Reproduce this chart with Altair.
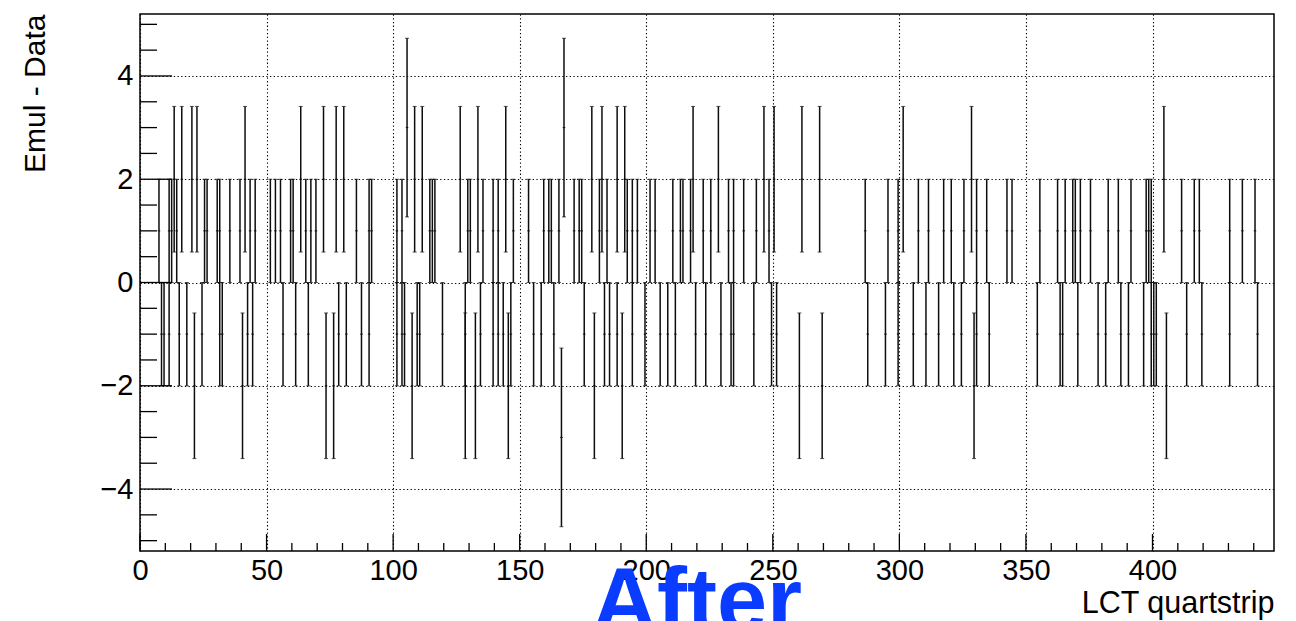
import altair as alt
import pandas as pd

# Bin lower edges (1 quartstrip wide) grouped by the profile mean in that bin
bins_p1 = [7, 11, 12, 14, 25, 26, 30, 31, 35, 39, 43, 45,
           51, 53, 55, 59, 60, 65, 67, 69, 85, 90, 91,
           101, 103, 114, 115, 116, 129, 130, 135, 139, 141, 147,
           153, 159, 161, 162, 165, 171, 173, 174, 181, 184,
           192, 194, 196, 201, 203, 210, 213, 214, 217, 222, 225, 232, 234, 238, 243, 248,
           286, 295, 299, 307, 311,
           317, 320, 325, 330, 334, 342, 344, 355, 362, 365, 368, 369, 371, 375,
           382, 386, 391, 397, 398, 399, 411, 416, 418, 430, 435, 440]
bins_m1 = [8, 9, 11, 15, 18, 24, 31, 32, 42, 44,
           56, 61, 66, 78, 81, 87, 90,
           101, 103, 104, 109, 110, 119, 128, 134, 139, 141, 143, 146,
           155, 158, 163, 175, 183, 185, 188,
           194, 199, 205, 208, 211, 219, 223, 229, 233, 234, 242, 249, 251,
           287, 294, 299, 305, 310, 315,
           321, 324, 330, 335, 354, 363, 364, 370, 378,
           381, 387, 390, 396, 399, 400, 401, 413, 419, 430, 441]
bins_p2 = [13, 16, 20, 22, 41, 63, 72, 77, 80, 108, 111, 126, 133, 144,
           178, 182, 188, 191, 218, 228, 246, 250, 261, 268, 301, 328, 404]
bins_m2 = [21, 40, 73, 76, 107, 128, 132, 145, 179, 190, 260, 269, 329, 405]
bins_p3 = [105, 167]
bins_m3 = [166]

mean_values = [1, -1, 2, -2, 3, -3]
error_values = [1.0, 1.0, 1.41, 1.41, 1.73, 1.73]
bin_groups = [bins_p1, bins_m1, bins_p2, bins_m2, bins_p3, bins_m3]

x_major = [0, 50, 100, 150, 200, 250, 300, 350, 400]
x_minor = [v for v in range(0, 450, 10) if v % 50 != 0]
y_major = [-4, -2, 0, 2, 4]
y_minor = [-5, -4.5, -3.5, -3, -2.5, -1.5, -1, -0.5, 0.5, 1, 1.5, 2.5, 3, 3.5, 4.5, 5]

rows = []
for m, e, grp in zip(mean_values, error_values, bin_groups):
    for b in grp:
        rows.append({"lo": b, "hi": b + 1, "xc": b + 0.5, "mean": m,
                     "ylo": m - e, "yhi": m + e})
df = pd.DataFrame(rows)

W, H = 1134, 537
FONT = "Liberation Sans"
INK = "#0d0d0d"

xs = alt.Scale(domain=[0, 448], nice=False, zero=False)
ys = alt.Scale(domain=[-5.2, 5.2], nice=False, zero=False)

xaxis = alt.Axis(values=x_major, grid=True, gridDash=[1.3, 2.4], gridColor="#000000",
                 gridOpacity=1, gridWidth=1.1, ticks=False, domain=False,
                 labelFont=FONT, labelFontSize=29, labelColor="#000000", labelPadding=5,
                 labelFlush=False,
                 title="LCT quartstrip", titleFont=FONT, titleFontSize=30.5,
                 titleFontWeight="normal", titleColor="#000000",
                 titleAnchor="end", titleAlign="right", titleX=W, titleY=61,
                 titleBaseline="alphabetic")
yaxis = alt.Axis(values=y_major, grid=True, gridDash=[1.3, 2.4], gridColor="#000000",
                 gridOpacity=1, gridWidth=1.1, ticks=False, domain=False,
                 labelFont=FONT, labelFontSize=29, labelColor="#000000", labelPadding=7,
                 title="Emul - Data", titleFont=FONT, titleFontSize=30,
                 titleFontWeight="normal", titleColor="#000000",
                 titleAngle=-90, titleAnchor="end", titleAlign="right",
                 titleX=-96, titleY=0, titleBaseline="alphabetic")

base = alt.Chart(df)

bars = base.mark_rule(color=INK, strokeWidth=1.5).encode(
    x=alt.X("xc:Q", scale=xs, axis=xaxis),
    y=alt.Y("ylo:Q", scale=ys, axis=yaxis),
    y2="yhi:Q",
)
mean_marks = base.mark_rule(color=INK, strokeWidth=1).encode(
    x=alt.X("lo:Q", scale=xs), x2="hi:Q", y=alt.Y("mean:Q", scale=ys)
)
cap_lo = base.mark_tick(orient="horizontal", size=4, thickness=1, color=INK).encode(
    x=alt.X("xc:Q", scale=xs), y=alt.Y("ylo:Q", scale=ys)
)
cap_hi = base.mark_tick(orient="horizontal", size=4, thickness=1, color=INK).encode(
    x=alt.X("xc:Q", scale=xs), y=alt.Y("yhi:Q", scale=ys)
)

ymaj = alt.Chart(pd.DataFrame({"v": y_major})).mark_rule(color="#000000", strokeWidth=1.3).encode(
    y=alt.Y("v:Q", scale=ys), x=alt.value(0), x2=alt.value(32))
ymin = alt.Chart(pd.DataFrame({"v": y_minor})).mark_rule(color="#000000", strokeWidth=1.3).encode(
    y=alt.Y("v:Q", scale=ys), x=alt.value(0), x2=alt.value(17))
xmaj = alt.Chart(pd.DataFrame({"v": x_major})).mark_rule(color="#000000", strokeWidth=1.3).encode(
    x=alt.X("v:Q", scale=xs), y=alt.value(H), y2=alt.value(H - 17))
xmin = alt.Chart(pd.DataFrame({"v": x_minor})).mark_rule(color="#000000", strokeWidth=1.3).encode(
    x=alt.X("v:Q", scale=xs), y=alt.value(H), y2=alt.value(H - 8))

after = alt.Chart(pd.DataFrame({"t": ["After"]})).mark_text(
    font="Liberation Sans", fontSize=90, fontWeight="bold", color="#0a3cff",
    align="center", baseline="alphabetic").encode(
    text="t:N", x=alt.value(557), y=alt.value(617))

chart = alt.layer(bars, mean_marks, cap_lo, cap_hi, ymaj, ymin, xmaj, xmin, after).properties(
    width=W, height=H,
    background="white",
    autosize=alt.AutoSizeParams(type="none"),
    padding={"left": 132, "top": 6, "right": 8, "bottom": 72},
).configure_view(stroke="#000000", strokeWidth=1.5)

chart.save("out.html", embed_options={"renderer": "svg", "actions": False})
